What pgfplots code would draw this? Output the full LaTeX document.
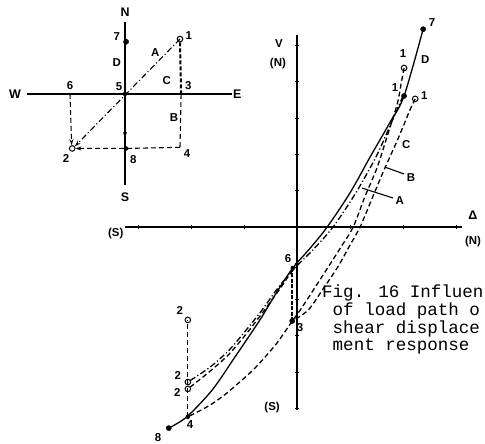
\documentclass[border=0pt]{standalone}
\usepackage{pgfplots}
\pgfplotsset{compat=1.18}
\usepackage{fontspec}
\setmainfont{Liberation Sans}
\newfontfamily\mono{Liberation Mono}
\usetikzlibrary{arrows.meta}

\tikzset{
  lbl/.style={font=\bfseries\fontsize{11.5}{13}\selectfont, inner sep=0pt},
  biglbl/.style={font=\bfseries\fontsize{12.5}{14}\selectfont, inner sep=0pt},
}
\pgfplotsset{
  curve/.style={black, line width=1.3bp, mark=none},
  dashA/.style={dash pattern=on 6bp off 2.5bp on 1.2bp off 2.5bp},
  dashB/.style={dash pattern=on 5bp off 3bp},
  filled/.style={only marks, mark=*, mark size=2.6bp, black},
  hollow/.style={only marks, mark=o, mark size=2.8bp, black, mark options={fill=white, line width=1bp}},
}

\begin{document}
\begin{tikzpicture}
\useasboundingbox (0,0) rectangle (485bp,444bp);
\clip (0,0) rectangle (485bp,444bp);

% ---------------- shear force V against displacement Delta ----------------
\begin{axis}[
  x=53bp, y=36.3bp,
  at={(297bp,217bp)}, anchor=origin,
  xmin=-3.25, xmax=3.11, ymin=-5.04, ymax=5.29,
  axis lines=middle, axis line style={-, line width=1.1bp, black},
  xtick={-3,-2,-1,1,2,3}, ytick={-5,-4,-3,-2,-1,1,2,3,4,5},
  xticklabels={}, yticklabels={},
  major tick length=4bp, tick style={line width=1bp, black},
  clip=false,
]
% path D (solid)
\addplot[curve, smooth] coordinates {
  (2.38,5.45) (2.02,3.61) (1.75,2.87) (1.38,1.93) (1.00,0.94) (0.57,0)
  (0.25,-0.58) (-0.08,-1.13) (-0.38,-1.79) (-0.70,-2.56) (-1.17,-3.58)
  (-1.60,-4.49) (-2.08,-5.23) (-2.42,-5.54)};
% path A (dash-dot)
\addplot[curve, dashA, smooth] coordinates {
  (2.00,3.61) (1.87,3.17) (1.72,2.67) (1.49,1.93) (1.11,0.94) (0.68,0)
  (0.30,-0.63) (-0.04,-1.13) (-0.36,-1.68) (-0.66,-2.29) (-0.96,-2.84)
  (-1.28,-3.39) (-1.64,-3.86) (-2.06,-4.27)};
% path B (dashed): 1 -> 3 -> 4, then 4 -> 2
\addplot[curve, dashB, smooth] coordinates {
  (2.02,4.38) (1.96,3.91) (1.91,3.50) (1.83,3.09) (1.68,2.40) (1.51,1.63)
  (1.28,0.83) (1.06,0) (0.83,-0.55) (0.59,-1.10) (0.32,-1.71) (0.06,-2.29)
  (-0.09,-2.59) (-0.23,-2.89) (-0.38,-3.20) (-0.60,-3.58) (-0.83,-3.94)
  (-1.08,-4.27) (-1.32,-4.57) (-1.55,-4.82) (-1.74,-4.99) (-2.06,-5.23)};
\addplot[curve, dashB] coordinates {(-2.06,-5.23) (-2.06,-2.56)};
% path C (dashed): 1 -> 3, 3 -> 6, 6 -> 2
\addplot[curve, dashB, smooth] coordinates {
  (2.23,3.53) (2.13,3.22) (2.00,2.76) (1.87,2.31) (1.66,1.63) (1.42,0.80)
  (1.19,0) (0.98,-0.55) (0.77,-1.10) (0.49,-1.71) (0.21,-2.29) (-0.09,-2.59)};
\addplot[black, line width=2.2bp, dash pattern=on 4bp off 1.5bp] coordinates {(-0.09,-2.59) (-0.09,-1.13)};
\addplot[curve, dashB, smooth] coordinates {
  (-0.08,-1.18) (-0.34,-1.74) (-0.64,-2.34) (-0.96,-2.95) (-1.30,-3.53)
  (-1.68,-4.02) (-2.06,-4.46)};
% load points
\addplot[filled] coordinates {(2.38,5.45) (2.02,3.61) (-0.09,-2.59) (-2.42,-5.54)};
\addplot[filled, mark size=2bp] coordinates {(-0.08,-1.13) (-2.06,-5.23)};
\addplot[hollow] coordinates {(2.02,4.38) (2.23,3.53) (-2.06,-2.56) (-2.06,-4.27) (-2.06,-4.46)};
% leader lines
\draw[line width=1.1bp] (axis cs:1.66,1.65) -- (axis cs:2.02,1.46);
\draw[line width=1.1bp] (axis cs:1.23,1.07) -- (axis cs:1.81,0.80);
% labels
\node[lbl] at (axis cs:-0.34,5.04) {V};
\node[lbl] at (axis cs:-0.36,4.49) {(N)};
\node[biglbl] at (axis cs:3.32,0.33) {Δ};
\node[lbl] at (axis cs:3.32,-0.41) {(N)};
\node[lbl] at (axis cs:-3.42,-0.17) {(S)};
\node[lbl] at (axis cs:-0.47,-4.96) {(S)};
\node[lbl] at (axis cs:2.55,5.62) {7};
\node[lbl] at (axis cs:2.42,4.60) {D};
\node[lbl] at (axis cs:2.00,4.79) {1};
\node[lbl] at (axis cs:1.85,3.83) {1};
\node[lbl] at (axis cs:2.40,3.61) {1};
\node[lbl] at (axis cs:2.06,2.26) {C};
\node[lbl] at (axis cs:2.15,1.35) {B};
\node[lbl] at (axis cs:1.94,0.72) {A};
\node[lbl] at (axis cs:-0.17,-0.88) {6};
\node[lbl] at (axis cs:0.06,-2.78) {3};
\node[lbl] at (axis cs:-2.21,-2.29) {2};
\node[lbl] at (axis cs:-2.25,-4.08) {2};
\node[lbl] at (axis cs:-2.26,-4.55) {2};
\node[lbl] at (axis cs:-2.02,-5.45) {4};
\node[lbl] at (axis cs:-2.62,-5.79) {8};
\end{axis}

% ---------------- load path in the plane ----------------
\begin{axis}[
  x=55bp, y=55bp,
  at={(125bp,350bp)}, anchor=origin,
  xmin=-1.78, xmax=1.95, ymin=-1.65, ymax=1.31,
  axis lines=middle, axis line style={-, line width=1.1bp, black},
  xtick=\empty, ytick=\empty,
  clip=false,
]
\addplot[black, line width=2.4bp, dash pattern=on 10bp off 1.5bp] coordinates {(-1,0) (1.02,0)};
\addplot[black, line width=2bp, dash pattern=on 4bp off 2bp] coordinates {(1.0,0.94) (1.02,0)};
\addplot[curve, line width=1.1bp, dashA, -{Stealth[length=6bp,width=4bp]}] coordinates {(1.0,1.0) (-0.91,-0.95)};
\addplot[curve, line width=1.1bp, dashB] coordinates {(1.02,0) (1.0,-0.97)};
\addplot[curve, line width=1.1bp, dashB, -{Stealth[length=6bp,width=4bp]}] coordinates {(1.0,-0.97) (0.02,-0.99) (-0.9,-0.99)};
\addplot[curve, line width=1.1bp, dashB, -{Stealth[length=6bp,width=4bp]}] coordinates {(-1.0,0) (-0.97,-0.93)};
\addplot[curve, line width=1.1bp, -{Stealth[length=6bp,width=4bp]}] coordinates {(0,0) (0,-0.8)};
\addplot[filled] coordinates {(0.02,0.95)};
\addplot[filled, mark size=2bp] coordinates {(0,0) (0.02,-0.99)};
\addplot[hollow] coordinates {(1.0,1.0) (-0.96,-0.99)};
\node[biglbl] at (axis cs:0,1.49) {N};
\node[biglbl] at (axis cs:0,-1.87) {S};
\node[biglbl] at (axis cs:-2.0,0) {W};
\node[biglbl] at (axis cs:2.04,0) {E};
\node[lbl] at (axis cs:-0.15,1.05) {7};
\node[lbl] at (axis cs:1.16,1.07) {1};
\node[lbl] at (axis cs:0.55,0.75) {A};
\node[lbl] at (axis cs:-0.15,0.58) {D};
\node[lbl] at (axis cs:0.76,0.24) {C};
\node[lbl] at (axis cs:1.15,0.15) {3};
\node[lbl] at (axis cs:-0.11,0.13) {5};
\node[lbl] at (axis cs:-1.0,0.15) {6};
\node[lbl] at (axis cs:0.89,-0.42) {B};
\node[lbl] at (axis cs:-1.07,-1.18) {2};
\node[lbl] at (axis cs:0.15,-1.2) {8};
\node[lbl] at (axis cs:1.13,-1.09) {4};
\end{axis}

% caption, as far as the page shows it (baseline of its last line)
\node[anchor=base west, align=left, inner sep=0pt,
      font=\mono\fontsize{17.6}{18}\selectfont] at (322bp,93bp)
  {Fig. 16 Influen\\~of load path o\\~shear displace\\~ment response};
\end{tikzpicture}
\end{document}
